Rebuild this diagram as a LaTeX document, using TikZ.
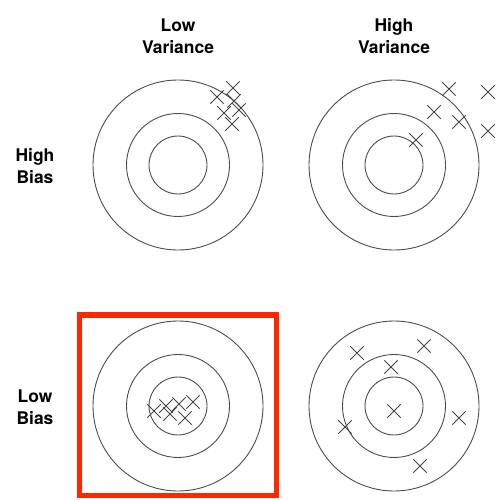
\documentclass[tikz,border=0pt]{standalone}
\usepackage{fontspec}
\setmainfont{TeX Gyre Heros}
\usetikzlibrary{shapes.misc}
\definecolor{ringgray}{gray}{0.3}
\definecolor{boxred}{RGB}{255,38,0}
\tikzset{
  ring/.style={circle,draw=ringgray,line width=0.9bp,inner sep=0pt,minimum size=#1},
  hit/.style={cross out,draw=ringgray!90!black,line width=0.8bp,inner sep=0pt,minimum size=12.5bp},
  lbl/.style={align=center,font=\fontsize{17.5}{22.6}\selectfont\bfseries,inner sep=0pt},
  redbox/.style={draw=boxred,line width=5.5bp}
}
\begin{document}
\begin{tikzpicture}[x=1bp,y=-1bp]
\useasboundingbox (0,0) rectangle (504,500);
% labels
\node[lbl] (lv) at (178,36) {Low\\Variance};
\node[lbl] (hv) at (394,36) {High\\Variance};
\node[lbl] (hb) at (35,166) {High\\Bias};
\node[lbl] (lb) at (35,407) {Low\\Bias};
% targets
\foreach \n/\cx/\cy in {tl/178/165, tr/394/165, bl/178/406, br/394/406}{
  \node[ring=170bp] (\n o) at (\cx,\cy) {};
  \node[ring=103bp] (\n m) at (\cx,\cy) {};
  \node[ring=58bp] (\n i) at (\cx,\cy) {};
}
% red highlight box
\node[redbox,minimum width=197.4bp,minimum height=180.3bp,inner sep=0pt] (hl) at (178,405.15) {};
% hits: high bias, low variance
\node[hit] (a1) at (233,88) {};
\node[hit] (a2) at (217,97) {};
\node[hit] (a3) at (234,101) {};
\node[hit] (a4) at (224,113) {};
\node[hit] (a5) at (239,110) {};
\node[hit] (a6) at (232,124) {};
% hits: high bias, high variance
\node[hit] (b1) at (449,89) {};
\node[hit] (b2) at (488,92) {};
\node[hit] (b3) at (434,112) {};
\node[hit] (b4) at (459,122) {};
\node[hit] (b5) at (488,131) {};
\node[hit] (b6) at (416,140) {};
% hits: low bias, low variance
\node[hit] (c1) at (154,411) {};
\node[hit] (c2) at (166,406) {};
\node[hit] (c3) at (170,414) {};
\node[hit] (c4) at (179,404) {};
\node[hit] (c5) at (193,402) {};
\node[hit] (c6) at (185,418) {};
% hits: low bias, high variance
\node[hit] (d1) at (357,353) {};
\node[hit] (d2) at (424,346) {};
\node[hit] (d3) at (391,367) {};
\node[hit] (d4) at (394,411) {};
\node[hit] (d5) at (459,418) {};
\node[hit] (d6) at (345,427) {};
\node[hit] (d7) at (420,466) {};
\end{tikzpicture}
\end{document}
